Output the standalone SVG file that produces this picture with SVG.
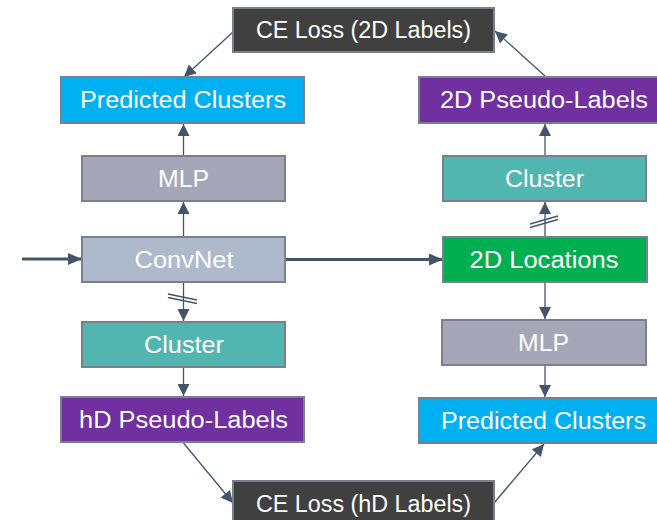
<svg xmlns="http://www.w3.org/2000/svg" width="657" height="520" viewBox="0 0 657 520">
<defs>
<style>
.box{stroke:#7b7e8c;stroke-width:2}
.t{font-family:"Liberation Sans",Arial,sans-serif;font-size:23px;fill:#ffffff;text-anchor:middle}
.c{stroke:#44546a;stroke-width:1.3;fill:none}
.ck{stroke:#44546a;stroke-width:3;fill:none}
.sl{stroke:#44546a;stroke-width:1.5;fill:none}
</style>
<marker id="ah" markerUnits="userSpaceOnUse" markerWidth="12" markerHeight="12" viewBox="0 0 10 10" refX="10" refY="5" orient="auto">
<path d="M0,0 L10,5 L0,10 z" fill="#44546a"/>
</marker>
<marker id="ahk" markerUnits="userSpaceOnUse" markerWidth="14" markerHeight="12" viewBox="0 0 14 12" refX="14" refY="6" orient="auto">
<path d="M0,0 L14,6 L0,12 z" fill="#44546a"/>
</marker>
</defs>
<rect width="657" height="520" fill="#ffffff"/>
<g id="connectors">
<line class="ck" x1="22" y1="259" x2="82" y2="259" marker-end="url(#ahk)"/>
<line class="ck" x1="286" y1="259.5" x2="443" y2="259.5" marker-end="url(#ahk)"/>
<line class="c" x1="183.5" y1="236" x2="183.5" y2="202" marker-end="url(#ah)"/>
<line class="c" x1="183.5" y1="155" x2="183.5" y2="124" marker-end="url(#ah)"/>
<line class="c" x1="233" y1="32" x2="184" y2="77" marker-end="url(#ah)"/>
<line class="c" x1="183.5" y1="283" x2="183.5" y2="321" marker-end="url(#ah)"/>
<line class="sl" x1="168" y1="294" x2="197" y2="300"/>
<line class="sl" x1="168" y1="297.5" x2="197" y2="303.5"/>
<line class="c" x1="183.5" y1="368" x2="183.5" y2="396" marker-end="url(#ah)"/>
<line class="c" x1="183.5" y1="443" x2="233" y2="503" marker-end="url(#ah)"/>
<line class="c" x1="494" y1="503" x2="544" y2="444" marker-end="url(#ah)"/>
<line class="c" x1="545" y1="236" x2="545" y2="202" marker-end="url(#ah)"/>
<line class="sl" x1="530" y1="224" x2="558" y2="216"/>
<line class="sl" x1="530" y1="227.5" x2="558" y2="219.5"/>
<line class="c" x1="545" y1="155" x2="545" y2="124" marker-end="url(#ah)"/>
<line class="c" x1="545" y1="76" x2="495" y2="31" marker-end="url(#ah)"/>
<line class="c" x1="545" y1="283" x2="545" y2="319" marker-end="url(#ah)"/>
<line class="c" x1="545" y1="366" x2="545" y2="397" marker-end="url(#ah)"/>
</g>
<g id="ce-loss-2d">
<rect class="box" x="233" y="8" width="261" height="44" fill="#404040"/>
<text class="t" x="363.5" y="38" textLength="215" lengthAdjust="spacingAndGlyphs">CE Loss (2D Labels)</text>
</g>
<g id="pred-clusters-left">
<rect class="box" x="61" y="77" width="243" height="46" fill="#00b0f0"/>
<text class="t" x="183" y="108" textLength="206" lengthAdjust="spacingAndGlyphs">Predicted Clusters</text>
</g>
<g id="mlp-left">
<rect class="box" x="82" y="156" width="203" height="45" fill="#a5a7b8"/>
<text class="t" x="183.5" y="187" textLength="51" lengthAdjust="spacingAndGlyphs">MLP</text>
</g>
<g id="convnet">
<rect class="box" x="82" y="237" width="203" height="45" fill="#aeb9cb"/>
<text class="t" x="184" y="268" textLength="99" lengthAdjust="spacingAndGlyphs">ConvNet</text>
</g>
<g id="cluster-left">
<rect class="box" x="82" y="322" width="203" height="45" fill="#52b6b0"/>
<text class="t" x="184" y="353" textLength="80" lengthAdjust="spacingAndGlyphs">Cluster</text>
</g>
<g id="hd-pseudo-labels">
<rect class="box" x="61" y="397" width="243" height="45" fill="#7030a0"/>
<text class="t" x="183.5" y="428" textLength="209" lengthAdjust="spacingAndGlyphs">hD Pseudo-Labels</text>
</g>
<g id="ce-loss-hd">
<rect class="box" x="233" y="481" width="261" height="46" fill="#404040"/>
<text class="t" x="363.5" y="512" textLength="215" lengthAdjust="spacingAndGlyphs">CE Loss (hD Labels)</text>
</g>
<g id="pseudo-labels-2d">
<rect class="box" x="419" y="77" width="250" height="46" fill="#7030a0"/>
<text class="t" x="544" y="108" textLength="208" lengthAdjust="spacingAndGlyphs">2D Pseudo-Labels</text>
</g>
<g id="cluster-right">
<rect class="box" x="443" y="156" width="203" height="45" fill="#52b6b0"/>
<text class="t" x="544.5" y="187" textLength="79" lengthAdjust="spacingAndGlyphs">Cluster</text>
</g>
<g id="locations-2d">
<rect class="box" x="443" y="237" width="204" height="45" fill="#00b050"/>
<text class="t" x="544" y="268" textLength="149" lengthAdjust="spacingAndGlyphs">2D Locations</text>
</g>
<g id="mlp-right">
<rect class="box" x="442" y="320" width="204" height="45" fill="#a5a7b8"/>
<text class="t" x="543.5" y="351" textLength="51" lengthAdjust="spacingAndGlyphs">MLP</text>
</g>
<g id="pred-clusters-right">
<rect class="box" x="419" y="398" width="250" height="45" fill="#00b0f0"/>
<text class="t" x="543.5" y="429" textLength="205" lengthAdjust="spacingAndGlyphs">Predicted Clusters</text>
</g>
</svg>
